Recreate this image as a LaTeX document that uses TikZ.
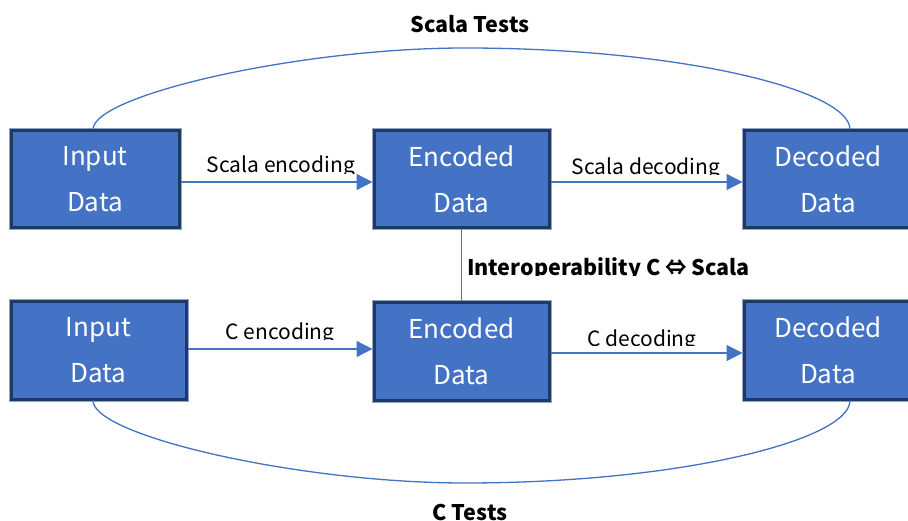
\documentclass[tikz,border=0pt]{standalone}
\usepackage{fontspec}
\setmainfont{Noto Sans CJK JP}
\usetikzlibrary{arrows.meta}
\definecolor{boxfill}{HTML}{4472C4}
\definecolor{boxline}{HTML}{1F3864}
\definecolor{boxedge}{HTML}{8EA6D2}
\definecolor{conn}{HTML}{4472C4}
\begin{document}
\begin{tikzpicture}[x=1pt,y=-1pt,
  databox/.style={draw=boxline, line width=3pt, fill=boxfill,
    preaction={draw=boxedge, line width=5pt},
    text=white, align=center, font=\fontsize{26}{46}\selectfont,
    inner sep=0pt, minimum height=97pt},
  conline/.style={draw=conn, line width=1.3pt},
  arr/.style={conline, -{Triangle[length=16pt,width=16pt]}},
  lab/.style={font=\fontsize{21}{24}\selectfont, inner sep=0pt, anchor=base},
  boldlab/.style={font=\bfseries\fontsize{21.5}{24}\selectfont, inner sep=0pt}]
\useasboundingbox[fill=white] (0,0) rectangle (908,521);

% boxes
\node[databox, minimum width=168pt] (in1) at (95,179.5) {Input\\Data};
\node[databox, minimum width=175pt] (enc1) at (461.5,179.5) {Encoded\\Data};
\node[databox, minimum width=168pt] (dec1) at (828,179.5) {Decoded\\Data};
\node[databox, minimum width=175pt] (in2) at (98.5,350.5) {Input\\Data};
\node[databox, minimum width=175pt] (enc2) at (461.5,351.5) {Encoded\\Data};
\node[databox, minimum width=168pt] (dec2) at (828,350.5) {Decoded\\Data};

% arrows
\draw[arr] ([yshift=-2.5pt]in1.east) -- ([yshift=-2.5pt]enc1.west);
\draw[arr] ([yshift=-2.5pt]enc1.east) -- ([yshift=-2.5pt]dec1.west);
\draw[arr] ([yshift=1.5pt]in2.east) -- ([yshift=1.5pt]enc2.west|-in2.east);
\draw[arr] ([yshift=-1.5pt]enc2.east) -- ([yshift=-2.5pt]dec2.west);
\draw[conline] (enc1.south) -- (enc2.north);

% arc connectors
\coordinate (ttop) at (465,48);
\coordinate (btop) at (465,483);
\draw[conline] ([xshift=-2pt]in1.north) .. controls (93,95) and (300,48) .. (ttop)
  .. controls (680,48) and ([xshift=22pt]dec1.north |- 0,90) .. ([xshift=22pt]dec1.north);
\draw[conline] ([xshift=-5.5pt]in2.south) .. controls (93,436) and (300,483) .. (btop)
  .. controls (680,483) and ([xshift=22pt]dec2.south |- 0,440) .. ([xshift=22pt]dec2.south);

% edge labels (clipped like the original text boxes)
\begin{scope}
\clip (190,140) rectangle (370,174);
\node[lab] (l1) at (281,173) {Scala encoding};
\end{scope}
\begin{scope}
\clip (555,140) rectangle (740,175);
\node[lab] (l2) at (646,175) {Scala decoding};
\end{scope}
\begin{scope}
\clip (200,310) rectangle (360,340);
\node[lab] (l3) at (280,340) {C encoding};
\end{scope}
\begin{scope}
\clip (560,315) rectangle (720,346);
\node[lab] (l4) at (642,346.5) {C decoding};
\end{scope}
\begin{scope}
\clip (464,250) rectangle (760,275.5);
\node[boldlab, anchor=base west] (l5) at (467,276) {Interoperability C ⇔ Scala};
\end{scope}

\node[boldlab, anchor=base] (t1) at (470,33) {Scala Tests};
\node[boldlab, anchor=base] (t2) at (470,520) {C Tests};
\end{tikzpicture}
\end{document}
